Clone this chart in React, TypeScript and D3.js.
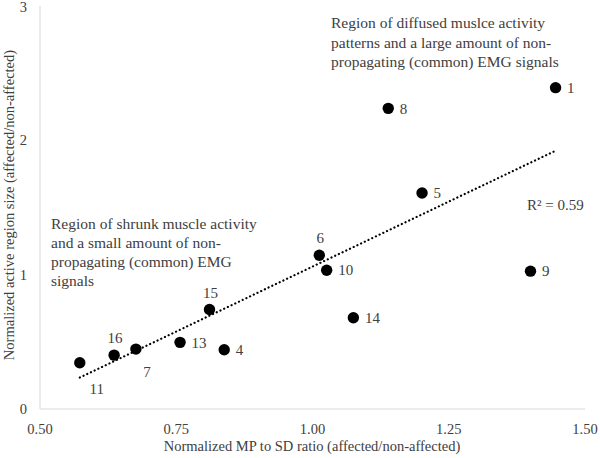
import React from "react";
import * as d3 from "d3";

const ids = ["1", "8", "5", "6", "10", "9", "14", "15", "13", "4", "7", "16", "11"];
const xs = [1.446, 1.139, 1.201, 1.0125, 1.026, 1.4, 1.075, 0.811, 0.757, 0.838, 0.676, 0.636, 0.573];
const ys = [2.392, 2.238, 1.608, 1.145, 1.033, 1.026, 0.679, 0.741, 0.496, 0.441, 0.446, 0.401, 0.344];
const labelPos = ["r", "r", "r", "t", "r", "r", "r", "t", "r", "r", "b7", "t", "b11"];
const xTicks = [0.5, 0.75, 1.0, 1.25, 1.5];
const yTicks = [0, 1, 2, 3];
const topNote = [
  "Region of diffused muslce activity",
  "patterns and a large amount of non-",
  "propagating (common) EMG signals",
];
const leftNote = [
  "Region of shrunk muscle activity",
  "and a small amount of non-",
  "propagating (common) EMG",
  "signals",
];
const r2Text = "R² = 0.59";

export default function App() {
  const W = 600, H = 458;
  const x = d3.scaleLinear().domain([0.5, 1.5]).range([40, 585]);
  const y = d3.scaleLinear().domain([0, 3]).range([409, 6]);
  const n = xs.length;
  const mx = d3.mean(xs)!, my = d3.mean(ys)!;
  let sxy = 0, sxx = 0;
  for (let i = 0; i < n; i++) {
    sxy += (xs[i] - mx) * (ys[i] - my);
    sxx += (xs[i] - mx) * (xs[i] - mx);
  }
  const b = sxy / sxx, a = my - b * mx;
  const x0 = d3.min(xs)!, x1 = d3.max(xs)!;
  const font = "'Liberation Serif', 'Times New Roman', serif";
  const col = "#404040";
  return (
    <svg width={W} height={H} style={{ position: "absolute", left: 0, top: 0, background: "#fff" }} fontFamily={font}>
      <line x1={x(0.5)} x2={x(0.5)} y1={y(3)} y2={y(0)} stroke="#d9d9d9" strokeWidth={1} />
      <line x1={x(0.5)} x2={x(1.5)} y1={y(0)} y2={y(0)} stroke="#d9d9d9" strokeWidth={1} />
      {yTicks.map((t) => (
        <text key={t} x={27} y={Math.max(y(t), 7)} dy="0.35em" textAnchor="end" fontSize={14.5} fill={col}>{t}</text>
      ))}
      {xTicks.map((t) => (
        <text key={t} x={x(t)} y={429} dy="0.35em" textAnchor="middle" fontSize={14.5} fill={col}>{t.toFixed(2)}</text>
      ))}
      <text x={312} y={446} dy="0.35em" textAnchor="middle" fontSize={14.5} fill={col}>Normalized MP to SD ratio (affected/non-affected)</text>
      <text transform={`translate(9,205) rotate(-90)`} dy="0.35em" textAnchor="middle" fontSize={14.5} fill={col}>Normalized active region size (affected/non-affected)</text>
      <line x1={x(x0)} y1={y(a + b * x0)} x2={x(x1)} y2={y(a + b * x1)} stroke="#000" strokeWidth={2.2} strokeDasharray="0.1 4" strokeLinecap="round" />
      {xs.map((v, i) => {
        const cx = x(v), cy = y(ys[i]);
        const p = labelPos[i];
        let lx = cx + 11.5, ly = cy, anchor = "start";
        if (p === "t") { lx = cx + 1; ly = cy - 17; anchor = "middle"; }
        if (p === "b7") { lx = cx + 11; ly = cy + 23; anchor = "middle"; }
        if (p === "b11") { lx = cx + 17; ly = cy + 25.5; anchor = "middle"; }
        return (
          <g key={ids[i]}>
            <circle cx={cx} cy={cy} r={5.7} fill="#000" />
            <text x={lx} y={ly} dy="0.35em" textAnchor={anchor} fontSize={15} fill={col}>{ids[i]}</text>
          </g>
        );
      })}
      {topNote.map((s, i) => (
        <text key={i} x={331} y={23 + i * 19.5} dy="0.35em" fontSize={15.5} fill={col}>{s}</text>
      ))}
      {leftNote.map((s, i) => (
        <text key={i} x={51} y={224 + i * 18.8} dy="0.35em" fontSize={15.5} fill={col}>{s}</text>
      ))}
      <text x={527} y={205} dy="0.35em" fontSize={15} fill={col}>{r2Text}</text>
    </svg>
  );
}
